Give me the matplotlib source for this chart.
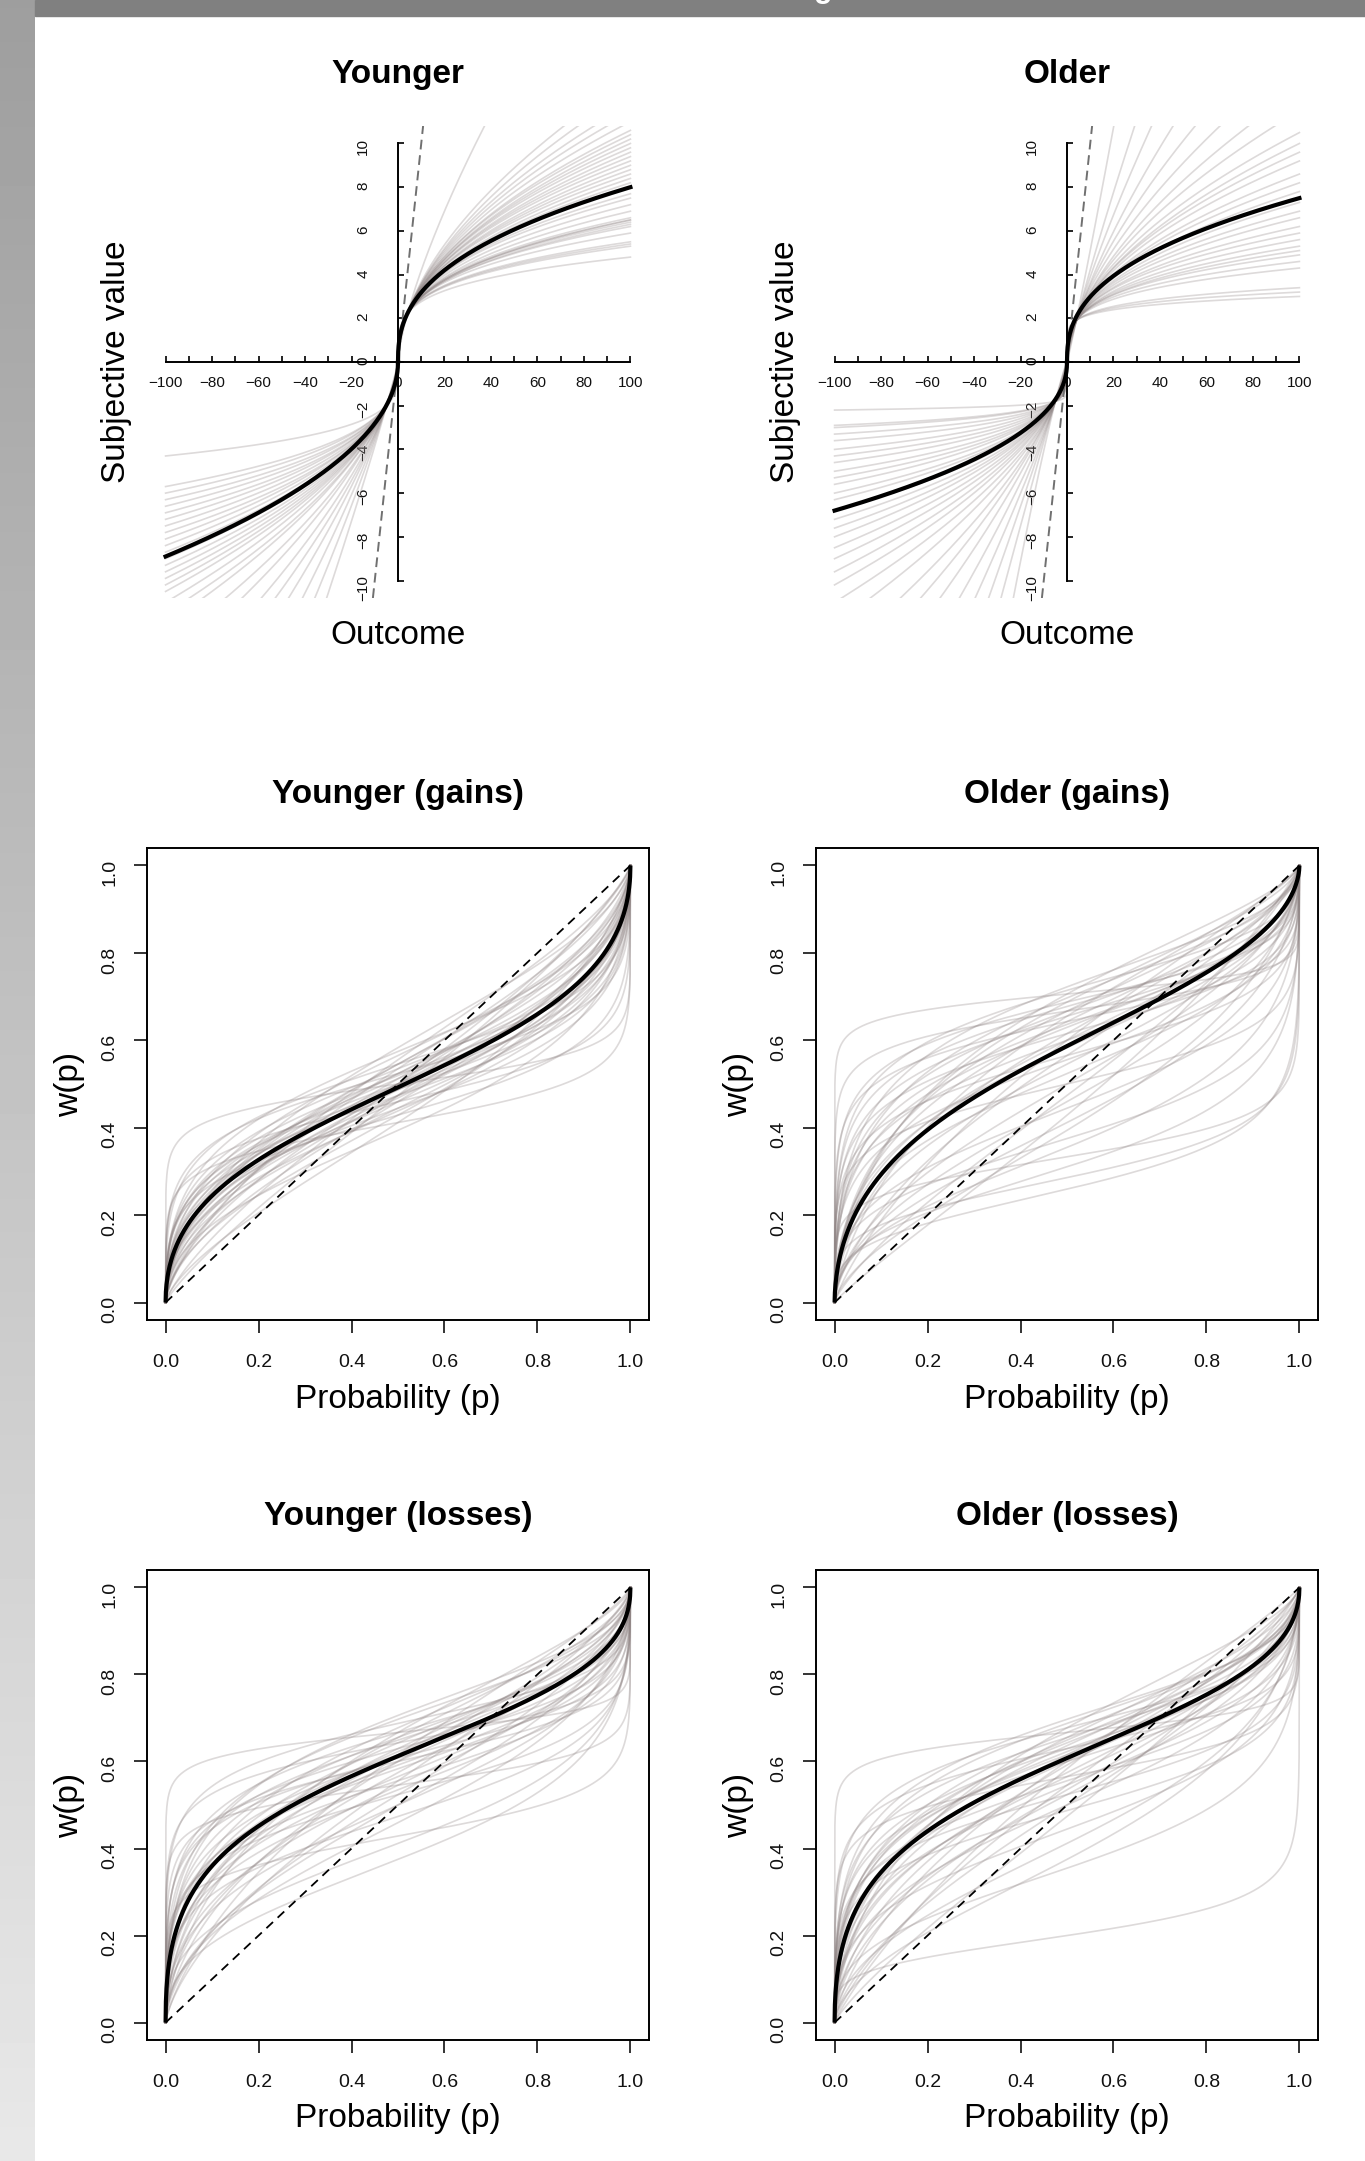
import matplotlib.pyplot as plt
import numpy as np
from matplotlib.patches import Rectangle

plt.rcParams['font.family'] = ['Liberation Sans', 'DejaVu Sans']

# ---- value function: per-participant value at |x|=100 and curvature exponent ----
young_gain_v100 = [4.8, 5.3, 5.4, 5.5, 5.9, 6.2, 6.3, 6.4, 6.5, 6.5, 6.6, 6.9, 7.2, 7.5, 7.7,
                   8.2, 8.4, 8.6, 8.8, 9.0, 9.2, 9.4, 9.6, 9.8, 10.0, 10.2, 10.4, 10.6, 11.0,
                   11.4, 11.8, 12.4, 13.0, 22.0]
young_gain_alpha = [0.24, 0.27, 0.275, 0.28, 0.30, 0.32, 0.33, 0.33, 0.34, 0.34, 0.34, 0.36, 0.37,
                    0.38, 0.39, 0.41, 0.42, 0.42, 0.43, 0.44, 0.44, 0.45, 0.46, 0.46, 0.47, 0.48,
                    0.48, 0.49, 0.50, 0.51, 0.52, 0.54, 0.55, 0.72]
young_loss_v100 = [4.3, 5.7, 6.0, 6.3, 6.6, 6.9, 7.2, 7.5, 7.8, 8.1, 8.4, 8.7, 9.0, 9.3, 9.6,
                   9.9, 10.2, 10.5, 11.0, 11.5, 12.0, 13.0, 14.0, 15.5, 17.0, 19.0, 22.0, 26.0, 32.0]
young_loss_beta = [0.255, 0.35, 0.37, 0.38, 0.40, 0.41, 0.43, 0.44, 0.45, 0.47, 0.48, 0.49, 0.50,
                   0.51, 0.52, 0.53, 0.54, 0.55, 0.57, 0.58, 0.60, 0.62, 0.65, 0.68, 0.71, 0.75,
                   0.80, 0.855, 0.92]
old_gain_v100 = [3.0, 3.2, 3.4, 4.3, 4.6, 4.9, 5.1, 5.3, 5.6, 5.9, 6.2, 6.6, 6.9, 7.3, 7.8,
                 8.2, 8.6, 9.2, 9.6, 10.0, 10.5, 11.5, 12.5, 14.0, 16.0, 19.0, 24.0, 32.0, 60.0]
old_gain_alpha = [0.14, 0.16, 0.18, 0.25, 0.27, 0.29, 0.31, 0.32, 0.34, 0.35, 0.37, 0.39, 0.40,
                  0.42, 0.44, 0.45, 0.47, 0.49, 0.50, 0.52, 0.53, 0.56, 0.59, 0.62, 0.66, 0.72,
                  0.79, 0.88, 1.07]
old_loss_v100 = [2.2, 2.9, 3.0, 3.3, 3.6, 4.0, 4.3, 4.6, 5.0, 5.3, 5.6, 6.0, 6.3, 6.8, 7.2, 7.6,
                 8.0, 8.5, 9.0, 9.6, 10.2, 11.0, 12.0, 13.5, 15.0, 17.0, 20.0, 24.0, 30.0, 40.0, 60.0]
old_loss_beta = [0.067, 0.16, 0.17, 0.20, 0.23, 0.27, 0.29, 0.31, 0.34, 0.36, 0.38, 0.40, 0.42,
                 0.44, 0.46, 0.48, 0.50, 0.52, 0.54, 0.56, 0.58, 0.60, 0.63, 0.67, 0.71, 0.75,
                 0.80, 0.86, 0.94, 1.04, 1.17]
# group means: (gain v100, alpha, loss v100, beta)
young_value_mean = (8.0, 0.40, 8.9, 0.50)
old_value_mean = (7.5, 0.40, 6.8, 0.46)

# ---- probability weighting (linear in log odds): curvature gamma, elevation delta ----
young_gain_gamma = [0.15, 0.20, 0.25, 0.30, 0.32, 0.35, 0.38, 0.40, 0.40, 0.42, 0.44, 0.45, 0.46,
                    0.48, 0.50, 0.50, 0.52, 0.53, 0.55, 0.56, 0.58, 0.60, 0.60, 0.62, 0.64, 0.65,
                    0.68, 0.70, 0.72, 0.75, 0.80, 0.85, 0.45, 0.50, 0.55, 0.38, 0.60, 0.48, 0.52, 0.42]
young_gain_delta = [1.00, 0.70, 0.85, 1.10, 0.75, 1.20, 0.90, 1.00, 0.80, 1.15, 0.95, 1.05, 0.85,
                    1.00, 0.90, 1.10, 1.30, 0.80, 1.00, 0.95, 1.20, 0.90, 0.75, 1.05, 1.40, 0.85,
                    1.00, 1.15, 0.70, 1.25, 1.00, 0.90, 1.35, 0.65, 1.10, 0.95, 1.20, 0.78, 0.88, 1.08]
old_gain_gamma = [0.12, 0.18, 0.20, 0.25, 0.28, 0.30, 0.32, 0.35, 0.36, 0.38, 0.40, 0.42, 0.44,
                  0.45, 0.48, 0.50, 0.52, 0.55, 0.56, 0.58, 0.60, 0.62, 0.65, 0.68, 0.70, 0.72,
                  0.75, 0.80, 0.85, 0.90, 0.30, 0.35, 0.40, 0.45, 0.50, 0.55, 0.60, 0.42, 0.38,
                  0.65, 0.25, 0.33]
old_gain_delta = [2.40, 2.00, 0.50, 1.80, 0.40, 2.20, 1.60, 0.60, 1.90, 2.50, 1.50, 0.80, 2.00,
                  1.70, 0.55, 1.40, 2.30, 1.20, 0.70, 1.80, 2.00, 1.00, 1.60, 0.65, 2.40, 1.30,
                  1.90, 0.90, 1.50, 0.75, 1.30, 2.10, 0.45, 1.10, 2.60, 1.50, 0.85, 1.75, 1.25,
                  2.20, 1.00, 0.35]
young_loss_gamma = [0.12, 0.15, 0.20, 0.22, 0.25, 0.28, 0.30, 0.32, 0.35, 0.36, 0.38, 0.40, 0.42,
                    0.44, 0.45, 0.46, 0.48, 0.50, 0.50, 0.52, 0.54, 0.55, 0.58, 0.60, 0.62, 0.65,
                    0.68, 0.70, 0.75, 0.80, 0.40, 0.45, 0.50, 0.55, 0.35, 0.60, 0.30, 0.42, 0.48, 0.38]
young_loss_delta = [2.00, 1.20, 0.75, 1.80, 1.50, 2.20, 1.10, 1.70, 0.90, 2.00, 1.40, 1.60, 0.70,
                    1.90, 1.30, 2.30, 1.00, 1.50, 1.80, 1.20, 2.10, 0.85, 1.60, 1.35, 1.90, 1.10,
                    1.50, 2.00, 1.25, 1.60, 1.45, 0.60, 2.40, 1.70, 1.25, 1.00, 1.55, 1.15, 1.65, 1.85]
old_loss_gamma = [0.25, 0.12, 0.20, 0.25, 0.30, 0.32, 0.35, 0.38, 0.40, 0.42, 0.44, 0.45, 0.46,
                  0.48, 0.50, 0.50, 0.52, 0.54, 0.55, 0.58, 0.60, 0.62, 0.65, 0.68, 0.70, 0.75,
                  0.80, 0.85, 0.40, 0.45, 0.50, 0.55, 0.35, 0.60, 0.30, 0.42, 0.48, 0.38, 0.56, 0.90]
old_loss_delta = [0.25, 2.00, 1.30, 1.70, 1.10, 2.10, 1.50, 1.90, 0.80, 1.60, 2.20, 1.20, 1.80,
                  1.00, 1.50, 2.00, 1.30, 1.75, 0.70, 1.60, 1.90, 1.15, 1.45, 2.10, 1.00, 1.50,
                  1.20, 0.90, 0.55, 1.65, 1.85, 1.35, 1.25, 0.60, 0.95, 2.30, 1.55, 1.70, 1.10, 1.40]
# group means (gamma, delta)
young_gain_mean = (0.50, 0.97)
old_gain_mean = (0.56, 1.42)
young_loss_mean = (0.47, 1.58)
old_loss_mean = (0.49, 1.55)

GREY = '#908585'
W, H = 1365, 2161


def llo(p, gamma, delta):
    num = delta * p ** gamma
    return num / (num + (1 - p) ** gamma)


def value_panel(ax, title, gv, ga, lv, lb, mean):
    xg = np.linspace(0, 100, 1200)
    for v, a in zip(gv, ga):
        ax.plot(xg, v * (xg / 100) ** a, color=GREY, alpha=0.3, lw=1.2)
    for v, b in zip(lv, lb):
        ax.plot(-xg, -v * (xg / 100) ** b, color=GREY, alpha=0.3, lw=1.2)
    ax.axline((0, 0), (1, 1), color='#707070', lw=1.4, ls=(0, (5, 3)))
    ax.plot(xg, mean[0] * (xg / 100) ** mean[1], color='black', lw=3.0)
    ax.plot(-xg, -mean[2] * (xg / 100) ** mean[3], color='black', lw=3.0)

    ax.set_xlim(-108, 108)
    ax.set_ylim(-10.8, 10.8)
    for s in ['top', 'right']:
        ax.spines[s].set_visible(False)
    ax.spines['left'].set_position(('data', 0))
    ax.spines['bottom'].set_position(('data', 0))
    ax.spines['bottom'].set_bounds(-100, 100)
    ax.spines['left'].set_bounds(-10, 10)
    for s in ['left', 'bottom']:
        ax.spines[s].set_linewidth(1.4)
    ax.set_xticks(np.arange(-100, 101, 20))
    ax.set_xticks(np.arange(-90, 100, 20), minor=True)
    ax.set_yticks(np.arange(-10, 11, 2))
    ax.tick_params(axis='x', which='both', direction='in', length=4.5, width=1.3,
                   pad=10, labelsize=11, colors='#111111')
    ax.tick_params(axis='y', direction='in', length=4.5, width=1.3, pad=20,
                   labelsize=11, labelrotation=90, colors='#111111')
    ax.patch.set_alpha(0)

    ax.text(0.5, 1.11, title, transform=ax.transAxes, ha='center', va='center',
            fontsize=24, fontweight='bold')
    ax.text(0.5, -0.08, 'Outcome', transform=ax.transAxes, ha='center', va='center',
            fontsize=24)
    ax.text(-0.06, 0.5, 'Subjective value', transform=ax.transAxes, ha='center',
            va='center', fontsize=24, rotation=90)


def weight_panel(ax, title, gammas, deltas, mean):
    p = np.linspace(0, 1, 1500)
    for g, d in zip(gammas, deltas):
        ax.plot(p, llo(p, g, d), color=GREY, alpha=0.3, lw=1.2)
    ax.plot([0, 1], [0, 1], color='black', lw=1.3, ls=(0, (5, 3.5)))
    ax.plot(p, llo(p, *mean), color='black', lw=3.0, solid_capstyle='butt')

    ax.set_xlim(-0.04, 1.04)
    ax.set_ylim(-0.04, 1.04)
    ticks = np.arange(0, 1.01, 0.2)
    labels = ['%.1f' % t for t in ticks]
    ax.set_xticks(ticks, labels)
    ax.set_yticks(ticks, labels)
    for s in ax.spines.values():
        s.set_linewidth(1.4)
    ax.tick_params(axis='both', direction='out', length=9.5, width=1.2,
                   labelsize=14, colors='#111111')
    ax.tick_params(axis='x', pad=15)
    ax.tick_params(axis='y', pad=11, labelrotation=90)

    ax.text(0.5, 1.114, title, transform=ax.transAxes, ha='center', va='center',
            fontsize=24, fontweight='bold')
    ax.text(0.5, -0.168, 'Probability (p)', transform=ax.transAxes, ha='center',
            va='center', fontsize=24)
    ax.text(-0.155, 0.5, 'w(p)', transform=ax.transAxes, ha='center', va='center',
            fontsize=24, rotation=90)


fig = plt.figure(figsize=(W / 100, H / 100), dpi=100)

# grey gradient strip on the left and banner on top
strip = fig.add_axes([0, 0, 35 / W, 1])
grad = np.linspace(0.62, 0.91, 256).reshape(-1, 1)
strip.imshow(grad, cmap='gray', vmin=0, vmax=1, aspect='auto', extent=[0, 1, 1, 0])
strip.axis('off')
fig.patches.append(Rectangle((35 / W, 1 - 16 / H), 1 - 35 / W, 16 / H,
                             transform=fig.transFigure, color='#808080', zorder=0))
fig.text(823 / W, 1 + 3 / H, 'g', color='white', fontsize=22, fontweight='bold',
         ha='center', va='baseline')

cols = [147 / W, 816 / W]
width = 502 / W
rows = [(1 - 598 / H, 472 / H), (1 - 1320 / H, 472 / H), (1 - 2040 / H, 470 / H)]

ax = fig.add_axes([cols[0], rows[0][0], width, rows[0][1]])
value_panel(ax, 'Younger', young_gain_v100, young_gain_alpha, young_loss_v100,
            young_loss_beta, young_value_mean)
ax = fig.add_axes([cols[1], rows[0][0], width, rows[0][1]])
value_panel(ax, 'Older', old_gain_v100, old_gain_alpha, old_loss_v100,
            old_loss_beta, old_value_mean)

ax = fig.add_axes([cols[0], rows[1][0], width, rows[1][1]])
weight_panel(ax, 'Younger (gains)', young_gain_gamma, young_gain_delta, young_gain_mean)
ax = fig.add_axes([cols[1], rows[1][0], width, rows[1][1]])
weight_panel(ax, 'Older (gains)', old_gain_gamma, old_gain_delta, old_gain_mean)

ax = fig.add_axes([cols[0], rows[2][0], width, rows[2][1]])
weight_panel(ax, 'Younger (losses)', young_loss_gamma, young_loss_delta, young_loss_mean)
ax = fig.add_axes([cols[1], rows[2][0], width, rows[2][1]])
weight_panel(ax, 'Older (losses)', old_loss_gamma, old_loss_delta, old_loss_mean)

fig.savefig('out.png', dpi=100)
